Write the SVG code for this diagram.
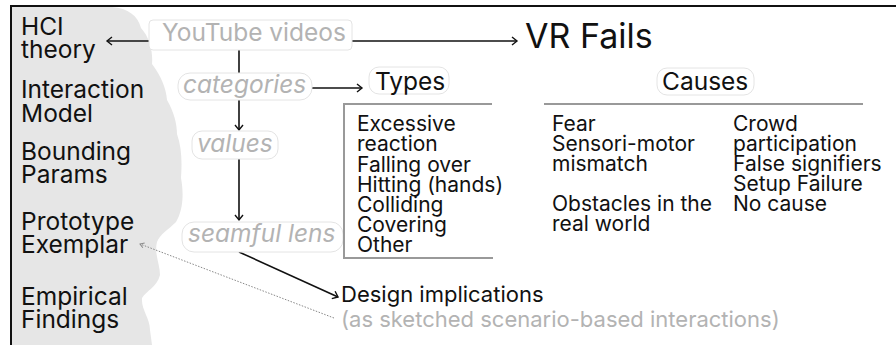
<svg xmlns="http://www.w3.org/2000/svg" width="896" height="345" viewBox="0 0 896 345">
<style>
text{font-family:Inter,"Liberation Sans",sans-serif;}
.blk{fill:#111;}
.gry{fill:#b3b3b3;}
.it{font-style:italic;}
.pill{fill:#fff;stroke:#e4e4e4;stroke-width:1;}
.ln{stroke:#111;stroke-width:1.6;fill:none;}
.box{stroke:#999;stroke-width:2;fill:none;}
</style>
<defs>
<marker id="ah" markerWidth="10" markerHeight="10" refX="8" refY="5" orient="auto" markerUnits="userSpaceOnUse">
<path d="M3,1 L8,5 L3,9" fill="none" stroke="#111" stroke-width="1.4"/>
</marker>
<marker id="ahg" markerWidth="8" markerHeight="8" refX="6" refY="4" orient="auto" markerUnits="userSpaceOnUse">
<path d="M2,1.5 L6,4 L2,6.5" fill="none" stroke="#888" stroke-width="1"/>
</marker>
</defs>
<rect width="896" height="345" fill="#fff"/>
<g id="cloud">
<path d="M12,7 L112,7 C128,8 138,16 141,28 C150,38 153,52 152,64 C161,76 166,88 167,100 C174,112 177,124 177,134 C182,148 182,164 181,178 C184,194 183,210 176,222 C168,230 160,234 157,242 C154,254 160,264 160,275 C157,287 146,291 142,298 C141,310 150,318 150,330 L152,345 L12,345 Z" fill="#e6e6e6"/>
</g>
<g id="frame">
<line x1="11" y1="6" x2="896" y2="6" stroke="#111" stroke-width="2"/>
<line x1="11" y1="5" x2="11" y2="345" stroke="#111" stroke-width="2"/>
</g>
<g id="theory" font-size="24.5" class="blk">
<text x="21" y="35">HCI</text>
<text x="21" y="58">theory</text>
<text x="21" y="98">Interaction</text>
<text x="21" y="122">Model</text>
<text x="21" y="160">Bounding</text>
<text x="21" y="183">Params</text>
<text x="21" y="230">Prototype</text>
<text x="21" y="253">Exemplar</text>
<text x="21" y="305">Empirical</text>
<text x="21" y="328">Findings</text>
</g>
<g id="connectors">
<line class="ln" x1="160" y1="41" x2="107" y2="41" marker-end="url(#ah)"/>
<line class="ln" x1="352" y1="41" x2="517" y2="41" marker-end="url(#ah)"/>
<line class="ln" x1="239" y1="50" x2="239" y2="75"/>
<line class="ln" x1="239" y1="99" x2="239" y2="130" marker-end="url(#ah)"/>
<line class="ln" x1="312" y1="88" x2="362" y2="88" marker-end="url(#ah)"/>
<line class="ln" x1="239" y1="159" x2="239" y2="220" marker-end="url(#ah)"/>
<line class="ln" x1="239" y1="252" x2="338" y2="297" marker-end="url(#ah)"/>
<line x1="334" y1="318" x2="140" y2="244" stroke="#888" stroke-width="1" stroke-dasharray="1.5,1.5" marker-end="url(#ahg)"/>
</g>
<g id="youtube">
<rect class="pill" x="149" y="20" width="203" height="30" rx="4"/>
<text class="gry" x="162" y="41" font-size="24.5">YouTube videos</text>
</g>
<g id="categories">
<rect class="pill" x="178" y="73" width="134" height="27" rx="12"/>
<text class="gry it" x="183" y="93" font-size="24.5">categories</text>
</g>
<g id="values">
<rect class="pill" x="192" y="131" width="86" height="28" rx="10"/>
<text class="gry it" x="197" y="152" font-size="24.5">values</text>
</g>
<g id="seamful">
<rect class="pill" x="182" y="222" width="161" height="30" rx="12"/>
<text class="gry it" x="188" y="242" font-size="24.5">seamful lens</text>
</g>
<g id="vrfails">
<text class="blk" x="525" y="48" font-size="34">VR Fails</text>
</g>
<g id="types">
<rect class="pill" x="369" y="67" width="80" height="27" rx="10"/>
<text class="blk" x="375" y="90" font-size="24.5">Types</text>
<path class="box" d="M492,104 H344 V258 H493"/>
<g font-size="21" class="blk">
<text x="357" y="131">Excessive</text>
<text x="357" y="151">reaction</text>
<text x="357" y="171.5">Falling over</text>
<text x="357" y="192">Hitting (hands)</text>
<text x="357" y="212">Colliding</text>
<text x="357" y="232">Covering</text>
<text x="357" y="252">Other</text>
</g>
</g>
<g id="causes">
<rect class="pill" x="657" y="68" width="97" height="27" rx="10"/>
<text class="blk" x="662" y="90" font-size="24.5">Causes</text>
<line class="box" x1="544" y1="104" x2="863" y2="104"/>
<g font-size="21" class="blk">
<text x="552" y="131">Fear</text>
<text x="552" y="151">Sensori-motor</text>
<text x="552" y="171">mismatch</text>
<text x="552" y="211">Obstacles in the</text>
<text x="552" y="231">real world</text>
<text x="733" y="131">Crowd</text>
<text x="733" y="151">participation</text>
<text x="733" y="171">False signifiers</text>
<text x="733" y="191">Setup Failure</text>
<text x="733" y="211">No cause</text>
</g>
</g>
<g id="design">
<text class="blk" x="341" y="302" font-size="22">Design implications</text>
<text class="gry" x="341" y="327" font-size="22">(as sketched scenario-based interactions)</text>
</g>
</svg>
